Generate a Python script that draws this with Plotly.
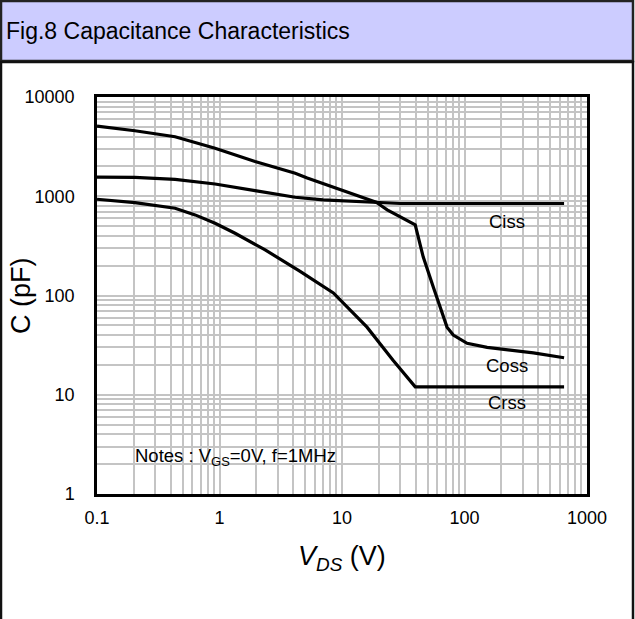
import math
import plotly.graph_objects as go

# ---- data ----
ciss_v = [0.1, 0.204, 0.434, 0.92, 1.95, 4.15, 7, 19, 30, 100, 300, 650]
ciss_c = [1560, 1550, 1482, 1330, 1140, 977, 918, 857, 845, 845, 845, 845]

coss_v = [0.1, 0.204, 0.434, 0.92, 1.95, 4.15, 5.2, 13.3, 19, 20.5, 23.4, 39.6, 46, 55.6, 72, 81, 105, 153, 365, 650]
coss_c = [5100, 4570, 3980, 3040, 2235, 1706, 1530, 1030, 870, 817, 728, 514, 245, 122, 48, 40, 33, 30, 26.4, 23.6]

crss_v = [0.1, 0.204, 0.434, 0.632, 0.92, 1.34, 2.36, 4.55, 8.5, 16, 26, 39.6, 650]
crss_c = [933, 863, 757, 649, 535, 424, 288, 175, 106, 48, 22.4, 12, 12]

x_ticks = [0.1, 1, 10, 100, 1000]
x_tick_text = ["0.1", "1", "10", "100", "1000"]
y_ticks = [1, 10, 100, 1000, 10000]
y_tick_text = ["1", "10", "100", "1000", "10000"]

labels = [("Ciss", 224, 551), ("Coss", 224, 19.5), ("Crss", 224, 8.3)]

# minor grid positions (2..9 within each decade)
x_minor = [m * 10 ** e for e in range(-1, 3) for m in range(2, 10)]
y_minor = [m * 10 ** e for e in range(0, 4) for m in range(2, 10)]

# ---- geometry helpers (plot area in pixels) ----
W, H = 635, 619
L, R, T, B = 97, 587, 97, 494
def px(x): return (x - L) / (R - L)
def py(y): return (B - y) / (B - T)

fig = go.Figure()
for v, c in [(ciss_v, ciss_c), (coss_v, coss_c), (crss_v, crss_c)]:
    fig.add_trace(go.Scatter(x=v, y=c, mode="lines",
                             line=dict(color="black", width=3.2),
                             showlegend=False, hoverinfo="skip"))

grid = "#c4c4c4"
fig.update_xaxes(type="log", range=[-1, 3], tickvals=x_ticks, ticktext=x_tick_text,
                 showgrid=True, gridcolor=grid, gridwidth=2,
                 minor=dict(tickmode="array", tickvals=x_minor, showgrid=True,
                            gridcolor=grid, gridwidth=2, ticks=""),
                 showline=True, mirror=True, linecolor="black", linewidth=2.5,
                 ticks="", ticklabelstandoff=6, zeroline=False,
                 tickfont=dict(size=18, color="black"))
fig.update_yaxes(type="log", range=[0, 4], tickvals=y_ticks, ticktext=y_tick_text,
                 showgrid=True, gridcolor=grid, gridwidth=2,
                 minor=dict(tickmode="array", tickvals=y_minor, showgrid=True,
                            gridcolor=grid, gridwidth=2, ticks=""),
                 showline=True, mirror=True, linecolor="black", linewidth=2.5,
                 ticks="", ticklabelstandoff=16, zeroline=False,
                 tickfont=dict(size=18, color="black"))

shapes = [
    # title banner
    dict(type="rect", xref="paper", yref="paper", x0=px(1), x1=px(633), y0=py(1), y1=py(61),
         fillcolor="#ccccff", line=dict(color="#222222", width=2.5), layer="below"),
    # outer frame of the lower panel
    dict(type="rect", xref="paper", yref="paper", x0=px(1), x1=px(633), y0=py(62), y1=py(640),
         fillcolor="rgba(0,0,0,0)", line=dict(color="#111111", width=2.5), layer="below"),
]

annotations = [
    dict(text="Fig.8 Capacitance Characteristics", xref="paper", yref="paper",
         x=px(4), y=py(31), xanchor="left", yanchor="middle", showarrow=False,
         font=dict(size=23, color="black")),
    dict(text="C (pF)", xref="paper", yref="paper", x=px(21), y=py(296),
         xanchor="center", yanchor="middle", textangle=-90, showarrow=False,
         font=dict(size=27, color="black")),
    dict(text="<i>V<sub>DS</sub></i> (V)", xref="paper", yref="paper", x=px(342), y=py(558),
         xanchor="center", yanchor="middle", showarrow=False,
         font=dict(size=27, color="black")),
    dict(text="Notes : V<sub>GS</sub>=0V, f=1MHz", x=math.log10(0.197), y=0.375, xref="x", yref="y",
         xanchor="left", yanchor="middle", showarrow=False,
         font=dict(size=18.5, color="black")),
]
for name, xv, yv in labels:
    annotations.append(dict(text=name, x=math.log10(xv), y=math.log10(yv), xref="x", yref="y",
                            xanchor="center", yanchor="middle", showarrow=False,
                            font=dict(size=18.5, color="black")))

fig.update_layout(width=W, height=H, margin=dict(l=L, r=W - R, t=T, b=H - B),
                  paper_bgcolor="white", plot_bgcolor="white",
                  font=dict(family="Liberation Sans, Arial, sans-serif", color="black"),
                  shapes=shapes, annotations=annotations)

fig.write_html("out.html", config={"displayModeBar": False},
               post_script="document.body.style.margin='0';document.body.style.padding='0';")
